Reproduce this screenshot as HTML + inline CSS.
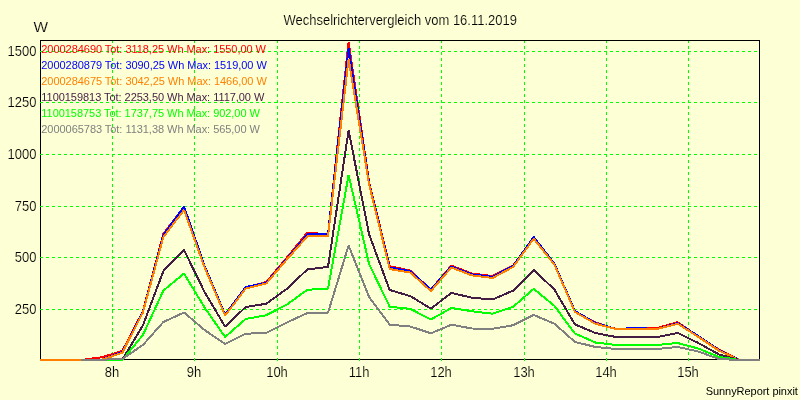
<!DOCTYPE html>
<html lang="de">
<head>
<meta charset="utf-8">
<title>Wechselrichtervergleich vom 16.11.2019</title>
<style>
html,body{margin:0;padding:0;background:#fdffd5;}
body{width:800px;height:400px;overflow:hidden;}
svg{display:block;}
text{font-family:"Liberation Sans",Arial,sans-serif;}
.txt{will-change:transform;}
.t13{font-size:14px;fill:#000;stroke:#fdffd5;stroke-width:0.15px;}
.t11{font-size:11px;letter-spacing:-0.045px;}
</style>
</head>
<body>
<svg width="800" height="400" viewBox="0 0 800 400">
<rect x="0" y="0" width="800" height="400" fill="#fdffd5"/>
<g shape-rendering="crispEdges">
<rect x="40.5" y="40.5" width="719" height="319" fill="none" stroke="#000" stroke-width="1"/>
<g stroke="#00ff00" stroke-width="1" stroke-dasharray="3 3" fill="none">
<line x1="40" y1="51.5" x2="759" y2="51.5"/>
<line x1="40" y1="102.5" x2="759" y2="102.5"/>
<line x1="40" y1="154.5" x2="759" y2="154.5"/>
<line x1="40" y1="206.5" x2="759" y2="206.5"/>
<line x1="40" y1="257.5" x2="759" y2="257.5"/>
<line x1="40" y1="309.5" x2="759" y2="309.5"/>
<line x1="112.5" y1="41" x2="112.5" y2="361" stroke-dashoffset="1"/>
<line x1="194.5" y1="41" x2="194.5" y2="361" stroke-dashoffset="1"/>
<line x1="277.5" y1="41" x2="277.5" y2="361" stroke-dashoffset="1"/>
<line x1="359.5" y1="41" x2="359.5" y2="361" stroke-dashoffset="1"/>
<line x1="441.5" y1="41" x2="441.5" y2="361" stroke-dashoffset="1"/>
<line x1="524.5" y1="41" x2="524.5" y2="361" stroke-dashoffset="1"/>
<line x1="606.5" y1="41" x2="606.5" y2="361" stroke-dashoffset="1"/>
<line x1="688.5" y1="41" x2="688.5" y2="361" stroke-dashoffset="1"/>
</g>
</g>
<g shape-rendering="crispEdges" fill="none" stroke-width="2" stroke-linejoin="bevel" stroke-linecap="butt">
<polyline stroke="#ff0000" points="40.0,360.00 60.6,360.00 81.1,360.00 101.7,357.25 122.3,351.00 142.9,311.30 163.4,233.75 184.0,207.00 204.6,266.00 225.1,314.60 245.7,287.50 266.3,282.00 286.9,257.50 307.4,232.50 328.0,234.50 348.6,42.00 369.1,182.00 389.7,266.20 410.3,270.60 430.9,289.60 451.4,265.60 472.0,273.60 492.6,276.00 513.1,265.60 533.7,238.00 554.3,264.00 574.9,311.50 595.4,322.50 616.0,329.00 636.6,329.00 657.1,328.00 677.7,322.20 698.3,336.50 718.9,349.50 739.4,360.00 760.0,360.00"/>
<polyline stroke="#0000ff" points="40.0,360.00 60.6,360.00 81.1,360.00 101.7,359.60 122.3,352.00 142.9,311.80 163.4,235.00 184.0,206.50 204.6,266.00 225.1,314.60 245.7,287.00 266.3,282.80 286.9,258.80 307.4,234.25 328.0,234.25 348.6,48.30 369.1,183.00 389.7,267.40 410.3,271.20 430.9,289.60 451.4,266.50 472.0,274.40 492.6,276.80 513.1,266.00 533.7,237.00 554.3,263.50 574.9,311.00 595.4,323.00 616.0,329.00 636.6,328.00 657.1,329.00 677.7,323.20 698.3,336.00 718.9,350.00 739.4,360.00 760.0,360.00"/>
<polyline stroke="#ff8000" points="40.0,360.00 60.6,360.00 81.1,360.00 101.7,359.80 122.3,352.80 142.9,312.50 163.4,237.00 184.0,210.00 204.6,267.50 225.1,315.60 245.7,288.50 266.3,283.50 286.9,259.50 307.4,236.25 328.0,236.25 348.6,59.00 369.1,184.50 389.7,269.00 410.3,272.60 430.9,291.00 451.4,267.50 472.0,275.40 492.6,278.00 513.1,266.90 533.7,238.75 554.3,264.40 574.9,311.90 595.4,323.75 616.0,329.00 636.6,329.00 657.1,329.00 677.7,323.75 698.3,336.90 718.9,350.60 739.4,360.00 760.0,360.00"/>
<polyline stroke="#431d44" points="81.1,360.00 101.7,360.00 122.3,359.60 142.9,325.50 163.4,271.00 184.0,250.00 204.6,292.00 225.1,326.60 245.7,307.00 266.3,303.75 286.9,288.75 307.4,269.40 328.0,266.90 348.6,130.50 369.1,234.40 389.7,290.00 410.3,296.10 430.9,308.60 451.4,292.90 472.0,297.75 492.6,299.50 513.1,290.60 533.7,270.00 554.3,289.40 574.9,324.40 595.4,333.00 616.0,337.00 636.6,337.00 657.1,337.00 677.7,333.00 698.3,343.00 718.9,354.40 739.4,360.00 760.0,360.00"/>
<polyline stroke="#00ff00" points="81.1,360.00 101.7,360.00 122.3,360.00 142.9,335.00 163.4,290.60 184.0,273.50 204.6,307.50 225.1,337.00 245.7,319.00 266.3,315.25 286.9,304.50 307.4,289.75 328.0,288.75 348.6,175.00 369.1,264.00 389.7,306.75 410.3,308.90 430.9,319.50 451.4,308.00 472.0,311.25 492.6,313.75 513.1,306.90 533.7,288.80 554.3,305.80 574.9,333.50 595.4,342.50 616.0,345.00 636.6,345.00 657.1,345.00 677.7,343.00 698.3,348.50 718.9,356.90 739.4,360.00 760.0,360.00"/>
<polyline stroke="#808080" points="81.1,360.00 101.7,359.70 122.3,359.00 142.9,345.00 163.4,322.00 184.0,312.50 204.6,330.00 225.1,344.00 245.7,333.75 266.3,332.75 286.9,322.50 307.4,313.00 328.0,312.75 348.6,245.50 369.1,297.00 389.7,324.75 410.3,326.50 430.9,333.30 451.4,324.75 472.0,328.50 492.6,328.75 513.1,325.25 533.7,315.00 554.3,323.60 574.9,341.90 595.4,347.00 616.0,349.00 636.6,349.00 657.1,349.00 677.7,346.90 698.3,351.50 718.9,359.00 739.4,360.00 760.0,360.00"/>
</g>
<g class="txt">
<text class="t13" transform="translate(400.2,25) scale(0.9286,1)" text-anchor="middle">Wechselrichtervergleich vom 16.11.2019</text>
<text class="t13" transform="translate(33.4,32) scale(1.1,1)">W</text>
<text class="t11" x="41.3" y="53" fill="#ff0000">2000284690 Tot: 3118,25 Wh Max: 1550,00 W</text>
<text class="t11" x="41.3" y="69" fill="#0000ff">2000280879 Tot: 3090,25 Wh Max: 1519,00 W</text>
<text class="t11" x="41.3" y="85" fill="#ff8000">2000284675 Tot: 3042,25 Wh Max: 1466,00 W</text>
<text class="t11" x="41.3" y="101" fill="#431d44">1100159813 Tot: 2253,50 Wh Max: 1117,00 W</text>
<text class="t11" x="41.3" y="117" fill="#00ff00">1100158753 Tot: 1737,75 Wh Max: 902,00 W</text>
<text class="t11" x="41.3" y="133" fill="#808080">2000065783 Tot: 1131,38 Wh Max: 565,00 W</text>
<text class="t13" transform="translate(36.5,56) scale(0.9286,1)" text-anchor="end">1500</text>
<text class="t13" transform="translate(36.5,107) scale(0.9286,1)" text-anchor="end">1250</text>
<text class="t13" transform="translate(36.5,159) scale(0.9286,1)" text-anchor="end">1000</text>
<text class="t13" transform="translate(36.5,211) scale(0.9286,1)" text-anchor="end">750</text>
<text class="t13" transform="translate(36.5,262) scale(0.9286,1)" text-anchor="end">500</text>
<text class="t13" transform="translate(36.5,314) scale(0.9286,1)" text-anchor="end">250</text>
<text class="t13" transform="translate(112,377) scale(0.9286,1)" text-anchor="middle">8h</text>
<text class="t13" transform="translate(194,377) scale(0.9286,1)" text-anchor="middle">9h</text>
<text class="t13" transform="translate(277,377) scale(0.9286,1)" text-anchor="middle">10h</text>
<text class="t13" transform="translate(359,377) scale(0.9286,1)" text-anchor="middle">11h</text>
<text class="t13" transform="translate(441,377) scale(0.9286,1)" text-anchor="middle">12h</text>
<text class="t13" transform="translate(524,377) scale(0.9286,1)" text-anchor="middle">13h</text>
<text class="t13" transform="translate(606,377) scale(0.9286,1)" text-anchor="middle">14h</text>
<text class="t13" transform="translate(688,377) scale(0.9286,1)" text-anchor="middle">15h</text>
<text class="t11" x="797.8" y="394.5" text-anchor="end" fill="#000">SunnyReport pinxit</text>
</g>
</svg>
</body>
</html>
